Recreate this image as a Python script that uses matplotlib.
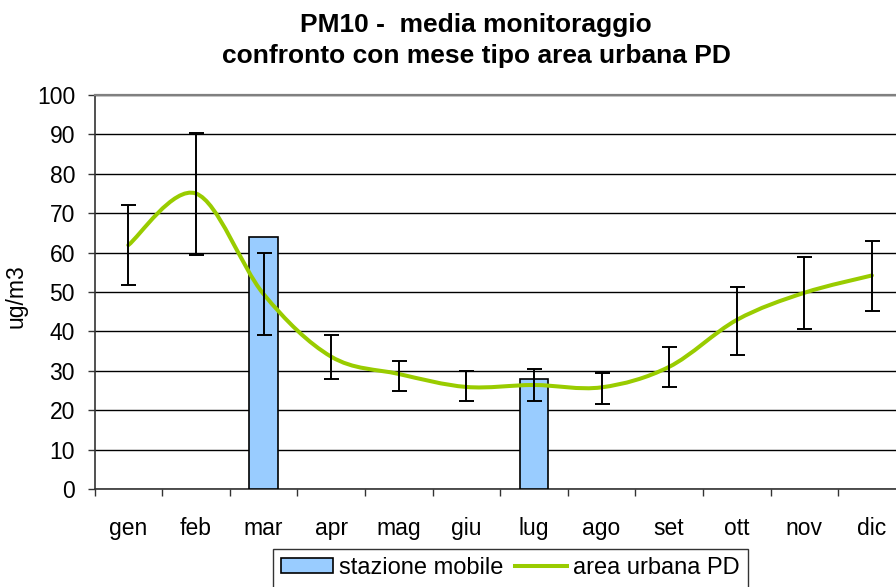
import matplotlib
matplotlib.use("Agg")
import matplotlib.pyplot as plt
import numpy as np
from matplotlib.path import Path
from matplotlib.patches import PathPatch, Patch
from matplotlib.lines import Line2D

plt.rcParams['font.family'] = ['Liberation Sans', 'DejaVu Sans']

months = ['gen', 'feb', 'mar', 'apr', 'mag', 'giu', 'lug', 'ago', 'set', 'ott', 'nov', 'dic']
stazione_mobile = [np.nan, np.nan, 64.0, np.nan, np.nan, np.nan, 27.8, np.nan, np.nan, np.nan, np.nan, np.nan]
area_urbana = [61.9, 75.0, 49.5, 33.6, 29.2, 25.9, 26.4, 25.8, 31.0, 42.9, 49.8, 54.2]
err_low = [51.8, 59.5, 39.0, 27.8, 24.8, 22.3, 22.3, 21.7, 25.8, 33.9, 40.6, 45.2]
err_high = [72.0, 90.4, 59.8, 39.1, 32.5, 29.9, 30.5, 29.4, 36.0, 51.3, 58.9, 62.9]
yticks = [0, 10, 20, 30, 40, 50, 60, 70, 80, 90, 100]

W, H = 896, 587
fig = plt.figure(figsize=(W / 100, H / 100), dpi=100)
ax = fig.add_axes([94.5 / W, 1 - 489 / H, 811.2 / W, (489 - 95) / H])

x = np.arange(len(months))
c_bar = '#99CCFF'
c_line = '#99CC00'
FS = 16.5
FSL = 17

# bars
ax.bar(x, stazione_mobile, width=0.42, color=c_bar, edgecolor='black', linewidth=1.2, zorder=3)

# smoothed line (Excel-like Bezier)
pts = np.column_stack([x, area_urbana]).astype(float)
n = len(pts)
verts = [tuple(pts[0])]
codes = [Path.MOVETO]
for i in range(n - 1):
    p0 = pts[i - 1] if i > 0 else pts[i]
    p1 = pts[i]
    p2 = pts[i + 1]
    p3 = pts[i + 2] if i + 2 < n else pts[i + 1]
    c1 = p1 + (p2 - p0) / 6.0
    c2 = p2 - (p3 - p1) / 6.0
    verts += [tuple(c1), tuple(c2), tuple(p2)]
    codes += [Path.CURVE4] * 3
ax.add_patch(PathPatch(Path(verts, codes), facecolor='none', edgecolor=c_line,
                       linewidth=2.9, zorder=4, capstyle='round', joinstyle='round'))

# error bars
yv = np.array(area_urbana)
yerr = [yv - np.array(err_low), np.array(err_high) - yv]
ax.errorbar(x, yv, yerr=yerr, fmt='none', ecolor='black', elinewidth=1.4,
            capsize=5.4, capthick=1.4, zorder=5)

ax.set_xlim(-0.5, len(months) - 0.5)
ax.set_ylim(0, 100)
ax.set_yticks(yticks)
ax.set_yticklabels([str(v) for v in yticks], fontsize=FS)
ax.yaxis.grid(True, color='black', linewidth=1.0, zorder=0)
ax.set_axisbelow(True)

ax.set_xticks(np.arange(-0.5, len(months), 1.0))
ax.set_xticklabels([])
ax.set_xticks(x, minor=True)
ax.set_xticklabels(months, minor=True, fontsize=FS)
ax.tick_params(axis='x', which='major', length=5, width=1.0, color='#333333', direction='out')
ax.tick_params(axis='x', which='minor', length=0, pad=20)
ax.tick_params(axis='y', length=5, width=1.0, color='#333333', pad=9)

ax.spines['right'].set_visible(False)
ax.spines['top'].set_color('#808080')
ax.spines['top'].set_linewidth(1.6)
ax.spines['left'].set_color('#333333')
ax.spines['left'].set_linewidth(1.2)
ax.spines['bottom'].set_color('#333333')
ax.spines['bottom'].set_linewidth(1.2)

ax.set_ylabel('ug/m3', fontsize=FS)
ax.yaxis.set_label_coords(-0.082, 0.49)

fig.text(476 / W, 1 - 32 / H, 'PM10 -  media monitoraggio', ha='center', va='baseline',
         fontsize=19, fontweight='bold')
fig.text(476 / W, 1 - 63 / H, 'confronto con mese tipo area urbana PD', ha='center', va='baseline',
         fontsize=19, fontweight='bold')

handles = [Patch(facecolor=c_bar, edgecolor='black', linewidth=1.2),
           Line2D([0], [0], color=c_line, linewidth=2.9)]
leg = fig.legend(handles, ['stazione mobile', 'area urbana PD'], loc='upper left',
                 bbox_to_anchor=(273 / W, 1 - 549 / H), ncol=2, fontsize=FSL,
                 frameon=True, fancybox=False, edgecolor='black', handlelength=2.2,
                 handleheight=0.6, handletextpad=0.25, columnspacing=0.5,
                 borderpad=0.35, borderaxespad=0)
leg.get_frame().set_linewidth(1.0)

fig.savefig('out.png', dpi=100)
